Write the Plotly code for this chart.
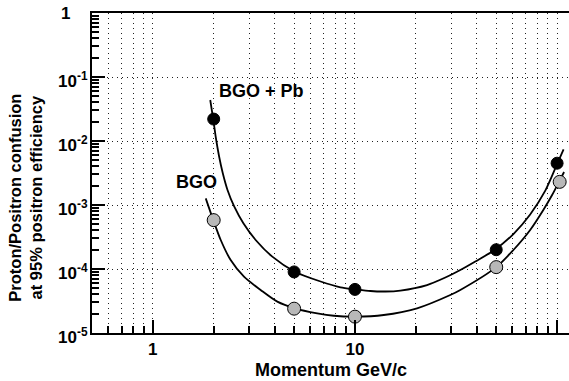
import math
import plotly.graph_objects as go

# Measured confusion points (momentum in GeV/c)
p_bgo_pb = [2, 5, 10, 50, 100]
conf_bgo_pb = [2.2e-2, 9.0e-5, 4.8e-5, 2.0e-4, 4.5e-3]
p_bgo = [2, 5, 10, 50, 103]
conf_bgo = [5.8e-4, 2.4e-5, 1.8e-5, 1.07e-4, 2.3e-3]

# Fitted curves, sampled along their length
fit_p_bgo_pb = [1.923, 1.99, 2.051, 2.125, 2.217, 2.341, 2.529, 2.805, 3.226, 3.90,
                5.04, 6.76, 8.48, 10.06, 11.93, 14.15, 16.78, 22.73, 28.0, 33.2,
                39.4, 49.0, 60.8, 73.6, 87.3, 99.6, 107.7]
fit_c_bgo_pb = [4.37e-2, 2.18e-2, 1.114e-2, 5.83e-3, 3.16e-3, 1.72e-3, 9.4e-4, 5.18e-4,
                2.84e-4, 1.56e-4, 9.07e-5, 6.38e-5, 5.18e-5, 4.82e-5, 4.53e-5, 4.45e-5,
                4.61e-5, 5.62e-5, 7.36e-5, 9.64e-5, 1.31e-4, 1.98e-4, 3.52e-4, 7.11e-4,
                1.66e-3, 4.22e-3, 7.37e-3]
fit_p_bgo = [1.827, 1.99, 2.167, 2.427, 2.824, 3.415, 4.129, 5.04, 6.51, 7.86, 10.06,
             13.88, 20.29, 29.63, 33.2, 50.0, 60.8, 73.6, 85.5, 94.5, 102.3, 108.3]
fit_c_bgo = [1.27e-3, 5.83e-4, 2.84e-4, 1.38e-4, 7.58e-5, 4.70e-5, 3.09e-5, 2.43e-5,
             2.03e-5, 1.86e-5, 1.80e-5, 1.91e-5, 2.43e-5, 3.92e-5, 4.70e-5, 1.07e-4,
             1.98e-4, 4.07e-4, 8.35e-4, 1.43e-3, 2.31e-3, 3.28e-3]

# Axis tick labels
x_major = [1, 10, 100]
x_major_text = ["1", "10", "10<sup>2</sup>"]
y_major = [1e-5, 1e-4, 1e-3, 1e-2, 1e-1, 1]
y_major_text = ["10<sup>-5</sup>", "10<sup>-4</sup>", "10<sup>-3</sup>",
                "10<sup>-2</sup>", "10<sup>-1</sup>", "1"]

FONT = "Liberation Sans, Arial, sans-serif"
GRID = dict(gridcolor="#222222", gridwidth=1, griddash="1px,4px")

x_minor = [m * 10 ** d for d in (-1, 0, 1) for m in range(2, 10) if m * 10 ** d > 0.5]
y_minor = [m * 10 ** d for d in range(-5, 0) for m in range(2, 10)]

fig = go.Figure()

curve_line = dict(color="black", width=1.8, shape="spline", smoothing=0.8)
fig.add_trace(go.Scatter(x=fit_p_bgo_pb, y=fit_c_bgo_pb, mode="lines", line=curve_line,
                         hoverinfo="skip", showlegend=False))
fig.add_trace(go.Scatter(x=fit_p_bgo, y=fit_c_bgo, mode="lines", line=curve_line,
                         hoverinfo="skip", showlegend=False))
fig.add_trace(go.Scatter(x=p_bgo_pb, y=conf_bgo_pb, mode="markers", name="BGO + Pb",
                         marker=dict(size=12, color="black",
                                     line=dict(color="black", width=1)),
                         showlegend=False))
fig.add_trace(go.Scatter(x=p_bgo, y=conf_bgo, mode="markers", name="BGO",
                         marker=dict(size=13, color="#b8b8b8",
                                     line=dict(color="black", width=1)),
                         showlegend=False))

tick_font = dict(family=FONT, size=17, color="black", weight="bold")

fig.update_xaxes(
    type="log", range=[math.log10(0.5), 2.059],
    tickmode="array", tickvals=x_major, ticktext=x_major_text,
    ticks="inside", ticklen=13, tickwidth=1.5, tickcolor="black",
    tickfont=tick_font,
    showline=True, linewidth=2, linecolor="black", mirror=True,
    showgrid=True, **GRID,
    minor=dict(tickmode="array", tickvals=x_minor, ticks="inside", ticklen=7,
               tickwidth=1.5, tickcolor="black", showgrid=True, **GRID),
)
fig.update_yaxes(
    type="log", range=[-5, 0],
    tickmode="array", tickvals=y_major, showticklabels=False,
    ticks="inside", ticklen=13, tickwidth=1.5, tickcolor="black",
    showline=True, linewidth=2, linecolor="black", mirror=False,
    showgrid=True, **GRID,
    minor=dict(tickmode="array", tickvals=y_minor, ticks="inside", ticklen=7,
               tickwidth=1.5, tickcolor="black", showgrid=False),
)

# Decade labels on the y axis; the exponent hangs to the right of "10"
for val, txt in zip(y_major, y_major_text):
    fig.add_annotation(text=txt, xref="paper", yref="y",
                       x=-0.042 if val == 1 else -0.004, y=math.log10(val),
                       xanchor="right", yanchor="middle", showarrow=False,
                       yshift=-3 if val != 1 else 0, font=tick_font)

label_font = dict(family=FONT, size=18, color="black", weight="bold")
fig.add_annotation(text="BGO + Pb", xref="paper", yref="paper", x=0.356, y=0.755,
                   showarrow=False, font=label_font, xanchor="center", yanchor="middle")
fig.add_annotation(text="BGO", xref="paper", yref="paper", x=0.220, y=0.473,
                   showarrow=False, font=label_font, xanchor="center", yanchor="middle")
fig.add_annotation(text="Momentum GeV/c", xref="paper", yref="paper", x=0.5, y=-0.116,
                   showarrow=False, font=label_font, xanchor="center", yanchor="middle")
fig.add_annotation(text="Proton/Positron confusion<br>at 95% positron efficiency",
                   xref="paper", yref="paper", x=-0.139, y=0.422, textangle=-90,
                   showarrow=False, xanchor="center", yanchor="middle",
                   font=dict(family=FONT, size=16.5, color="black", weight="bold"))

fig.update_layout(
    width=569, height=381,
    margin=dict(l=92, r=0, t=13, b=48),
    paper_bgcolor="white", plot_bgcolor="white",
    showlegend=False,
)

fig.write_html("out.html")
